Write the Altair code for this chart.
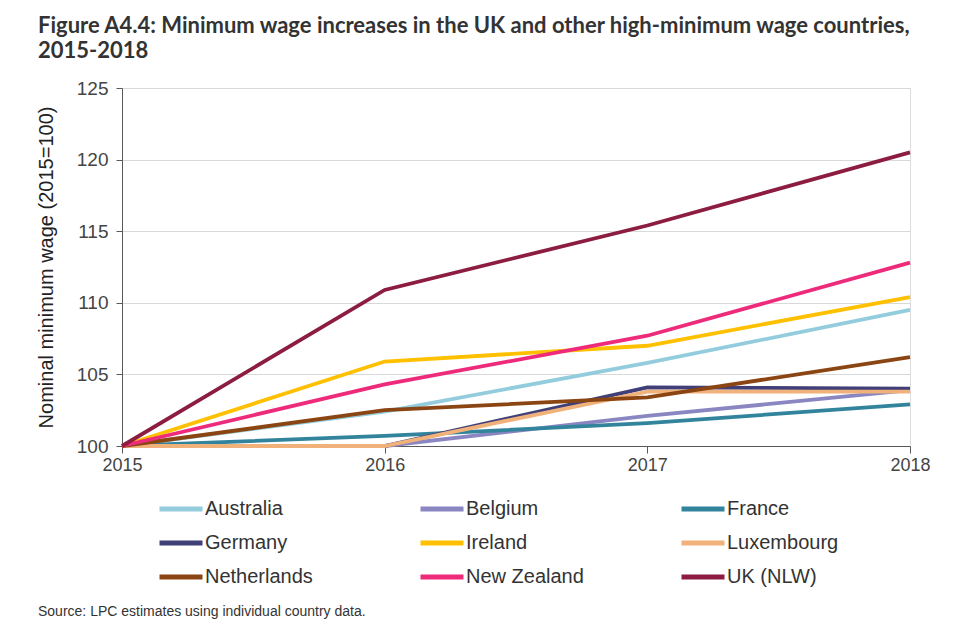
import altair as alt
import pandas as pd

years = [2015, 2016, 2017, 2018]
countries = ["Australia", "Belgium", "France", "Germany", "Ireland",
             "Luxembourg", "Netherlands", "New Zealand", "UK (NLW)"]
australia = [100, 102.4, 105.8, 109.5]
belgium = [100, 100, 102.1, 103.9]
france = [100, 100.7, 101.6, 102.9]
germany = [100, 100, 104.1, 104.0]
ireland = [100, 105.9, 107.0, 110.4]
luxembourg = [100, 100, 103.8, 103.8]
netherlands = [100, 102.5, 103.4, 106.2]
new_zealand = [100, 104.3, 107.7, 112.8]
uk_nlw = [100, 110.9, 115.4, 120.5]
colors = ["#93CDDD", "#8A86C2", "#31849B", "#403F77", "#FFC000",
          "#F0B27A", "#8B4513", "#EE2A7B", "#8C1D40"]
y_ticks = [100, 105, 110, 115, 120, 125]
title_lines = ["Figure A4.4: Minimum wage increases in the UK and other high-minimum wage countries,",
               "2015-2018"]
y_title = "Nominal minimum wage (2015=100)"
source_note = ["Source: LPC estimates using individual country data."]

series = [australia, belgium, france, germany, ireland,
          luxembourg, netherlands, new_zealand, uk_nlw]
rows = []
for c, vals in zip(countries, series):
    for yr, v in zip(years, vals):
        rows.append({"country": c, "year": yr, "value": v})
df = pd.DataFrame(rows)

FONT = "Liberation Sans, Arial, sans-serif"

lines = alt.Chart(df).mark_line(strokeWidth=3.8).encode(
    x=alt.X("year:Q",
            scale=alt.Scale(domain=[2015, 2018], nice=False, zero=False),
            axis=alt.Axis(values=years, format="d", title=None, grid=False,
                          tickSize=7, labelPadding=3, domainColor="#595959",
                          tickColor="#595959", labelFontSize=18,
                          labelColor="#444444", labelFont=FONT,
                          labelFlush=False)),
    y=alt.Y("value:Q",
            scale=alt.Scale(domain=[100, 125], nice=False, zero=False),
            axis=alt.Axis(values=y_ticks, title=y_title, grid=True,
                          gridColor="#d9d9d9", gridWidth=1,
                          tickSize=6, labelPadding=8,
                          domainColor="#595959", tickColor="#595959",
                          labelFontSize=19, labelColor="#444444", labelFont=FONT,
                          titleFont=FONT, titleFontSize=20, titleFontWeight="normal",
                          titleColor="#222222", titlePadding=20)),
    color=alt.Color("country:N",
                    scale=alt.Scale(domain=countries, range=colors),
                    legend=alt.Legend(title=None, orient="none", legendX=35, legendY=397,
                                      direction="horizontal",
                                      columns=3, gridAlign="all", columnPadding=87,
                                      rowPadding=-11, symbolType="stroke",
                                      symbolSize=1849, symbolStrokeWidth=5,
                                      labelFontSize=20, labelFont=FONT,
                                      labelColor="#333333", labelOffset=0,
                                      padding=0, labelLimit=300)),
    order=alt.Order("year:Q"),
)

note = alt.Chart(pd.DataFrame({"t": source_note})).mark_text(
    align="left", baseline="middle", fontSize=14, font=FONT, color="#333333"
).encode(x=alt.value(-84), y=alt.value(524), text="t:N")

chart = alt.layer(lines, note).properties(
    width=788, height=358,
    title=alt.TitleParams(title_lines, anchor="start", frame="group", dx=-84,
                          font="Lato, Open Sans, sans-serif", fontSize=22,
                          fontWeight="bold", color="#333333", lineHeight=25,
                          offset=16),
    autosize=alt.AutoSizeParams(type="none"),
    padding={"left": 114, "top": 80, "right": 42, "bottom": 186},
).configure_view(stroke=None).configure(background="white")

chart.save("out.html", embed_options={"renderer": "svg", "actions": False})
